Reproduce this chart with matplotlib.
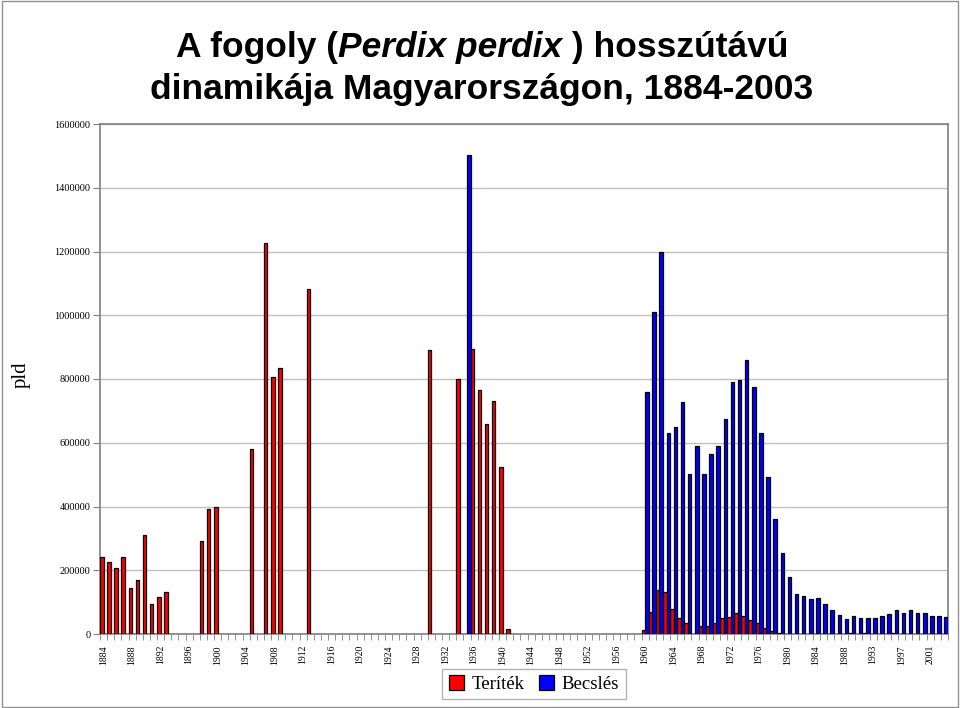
import matplotlib
matplotlib.use("Agg")
import numpy as np
import matplotlib.pyplot as plt
from matplotlib.patches import Patch, Rectangle
from matplotlib.offsetbox import TextArea, HPacker, AnnotationBbox

# ---------------------------------------------------------
# adatok (pld) - 1884-2003, 1992 hiányzik
# ---------------------------------------------------------
evek = list(range(1884, 1992)) + list(range(1993, 2004))

teritek = (
    [242000, 227000, 208000, 242000, 143000, 168000, 310000, 95000, 115000, 131000]   # 1884-1893
    + [0, 0, 0, 0, 292000, 392000, 398000, 0, 0, 0]                                   # 1894-1903
    + [0, 580000, 0, 1227000, 806000, 834000, 0, 0, 0, 1082000]                       # 1904-1913
    + [0, 0, 0, 0, 0, 0, 0, 0, 0, 0]                                                  # 1914-1923
    + [0, 0, 0, 0, 0, 0, 891000, 0, 0, 0]                                             # 1924-1933
    + [800000, 0, 893000, 766000, 658000, 731000, 525000, 16000, 0, 0]                # 1934-1943
    + [0, 0, 0, 0, 0, 0, 0, 0, 0, 0]                                                  # 1944-1953
    + [0, 0, 0, 0, 0, 0, 12000, 70000, 138000, 133000]                                # 1954-1963
    + [80000, 51000, 36000, 0, 25000, 25000, 36000, 49000, 52000, 67000]              # 1964-1973
    + [56000, 45000, 36000, 19000, 10000, 3000, 0, 0, 0, 0]                           # 1974-1983
    + [0, 0, 0, 0, 0, 3000, 0, 2000, 0, 0]                                            # 1984-1994
    + [0, 3000, 0, 0, 0, 0, 0, 0, 0]                                                  # 1995-2003
)

becsles = (
    [0] * 51 + [1503000] + [0] * 24                                                   # 1884-1959
    + [760000, 1010000, 1197000, 630000, 648000, 727000, 502000, 590000, 502000, 565000]  # 1960-1969
    + [590000, 673000, 791000, 796000, 860000, 776000, 630000, 492000, 361000, 253000]   # 1970-1979
    + [178000, 125000, 119000, 110000, 114000, 95000, 75000, 60000, 46000]               # 1980-1988
    + [56000, 51000, 51000, 51000, 56000, 62000, 75000, 66000, 75000, 67000]             # 1989-1999
    + [66000, 56000, 56000, 52000]                                                       # 2000-2003
)

teritek = np.array(teritek)
becsles = np.array(becsles)
x = np.arange(len(evek))

# ---------------------------------------------------------
# figura
# ---------------------------------------------------------
fig = plt.figure(figsize=(9.6, 7.08), dpi=100)
ax = fig.add_axes([100 / 960, 1 - 634 / 708, 848 / 960, 510 / 708])

m1 = teritek > 0
m2 = becsles > 0
ax.bar(x[m1] - 0.25, teritek[m1], width=0.5, color="#ff0000",
       edgecolor="black", linewidth=0.9, zorder=3)
ax.bar(x[m2] + 0.25, becsles[m2], width=0.5, color="#0000ff",
       edgecolor="black", linewidth=0.9, zorder=3)

ax.set_xlim(-0.5, len(evek) - 0.5)
ax.set_ylim(0, 1600000)
ax.set_yticks(np.arange(0, 1600001, 200000))
ax.set_yticklabels([str(v) for v in range(0, 1600001, 200000)],
                   family="Liberation Serif", fontsize=7.5)
ax.yaxis.grid(True, color="#c0c0c0", linewidth=1, zorder=0)
ax.set_axisbelow(True)

ax.set_xticks(x[::4])
ax.set_xticklabels([str(evek[i]) for i in x[::4]], rotation=90,
                   family="Liberation Serif", fontsize=7)
ax.set_xticks(np.arange(-0.5, len(evek)), minor=True)
ax.tick_params(axis="x", which="major", length=0, pad=8)
ax.tick_params(axis="x", which="minor", length=4, color="#808080", direction="out")
ax.tick_params(axis="y", length=5, color="#808080", direction="out", pad=2)

for s in ax.spines.values():
    s.set_color("#808080")
    s.set_linewidth(1.2)

fig.text(21 / 960, 1 - 375 / 708, "pld", rotation=90, family="Liberation Serif",
         fontsize=15, ha="center", va="center")

# cím: vegyes dőlt
cim_stilus = dict(family="Liberation Sans", fontsize=25.5, fontweight="bold")
reszek = [TextArea("A fogoly (", textprops=cim_stilus),
          TextArea("Perdix perdix", textprops=dict(cim_stilus, style="italic")),
          TextArea(" ) hosszútávú", textprops=cim_stilus)]
sor1 = HPacker(children=reszek, pad=0, sep=0, align="baseline")
ab = AnnotationBbox(sor1, (0.502, 1 - 47 / 708), xycoords="figure fraction",
                    frameon=False, box_alignment=(0.5, 0.5))
fig.add_artist(ab)
fig.text(0.502, 1 - 89 / 708, "dinamikája Magyarországon, 1884-2003",
         ha="center", va="center", **cim_stilus)

# jelmagyarázat
kezelok = [Patch(facecolor="#ff0000", edgecolor="black", linewidth=0.9, label="Teríték"),
           Patch(facecolor="#0000ff", edgecolor="black", linewidth=0.9, label="Becslés")]
leg = fig.legend(handles=kezelok, loc="center", bbox_to_anchor=(534 / 960, 1 - 684 / 708),
                 ncol=2, frameon=True, fancybox=False, edgecolor="#a0a0a0",
                 prop={"family": "Liberation Serif", "size": 13.5},
                 handlelength=0.8, handleheight=0.8, handletextpad=0.4,
                 columnspacing=0.8, borderpad=0.35)
leg.get_frame().set_linewidth(1)

fig.patches.append(Rectangle((0.002, 0.002), 0.996, 0.996, transform=fig.transFigure,
                             fill=False, edgecolor="#909090", linewidth=1))

fig.savefig("out.png", dpi=100)
